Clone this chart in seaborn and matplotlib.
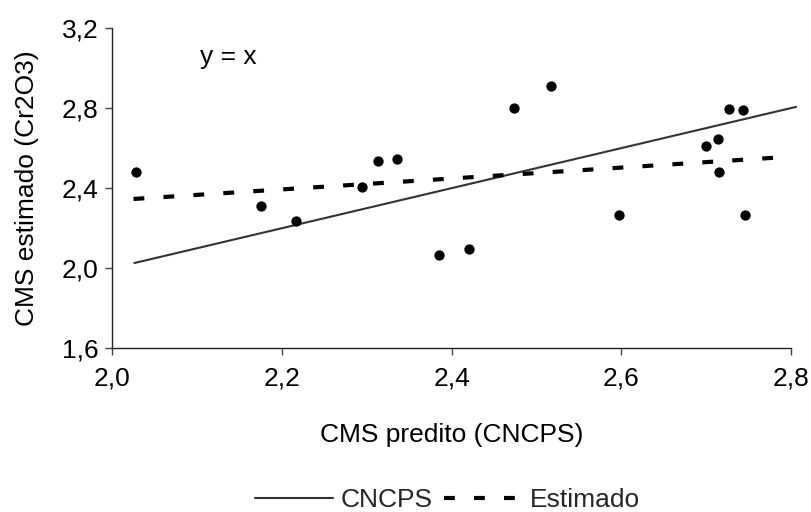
import matplotlib
matplotlib.use("Agg")
import matplotlib.pyplot as plt
import seaborn as sns
import pandas as pd
import numpy as np

# Observed points: CMS predito (CNCPS) vs CMS estimado (Cr2O3)
cms_predito = [2.028, 2.175, 2.217, 2.294, 2.313, 2.336, 2.385, 2.421, 2.474,
               2.517, 2.597, 2.700, 2.714, 2.715, 2.727, 2.743, 2.746]
cms_estimado = [2.480, 2.310, 2.235, 2.408, 2.535, 2.548, 2.065, 2.095, 2.800,
                2.908, 2.265, 2.610, 2.647, 2.480, 2.795, 2.788, 2.265]

# Line "CNCPS" (y = x)
cncps_x = [2.026, 2.806]
cncps_y = [2.026, 2.806]
# Line "Estimado" (fitted)
est_x = [2.025, 2.799]
est_y = [2.346, 2.557]

x_ticks = [2.0, 2.2, 2.4, 2.6, 2.8]
y_ticks = [1.6, 2.0, 2.4, 2.8, 3.2]

sns.set_theme(style="white")
plt.rcParams['font.family'] = ['Liberation Sans', 'DejaVu Sans']
FS = 19

fig = plt.figure(figsize=(8.12, 5.12), dpi=100)
ax = fig.add_axes([112.3/812, 1-348.3/512, (791-112.3)/812, (348.3-28)/512])

pts = pd.DataFrame({"x": cms_predito, "y": cms_estimado})
sns.scatterplot(data=pts, x="x", y="y", ax=ax, color="black", s=55,
                edgecolor="black", linewidth=0, zorder=3)

sns.lineplot(x=cncps_x, y=cncps_y, ax=ax, color="#333333", linewidth=1.5,
             sort=False, label="CNCPS", zorder=2)
ln = sns.lineplot(x=est_x, y=est_y, ax=ax, color="black", linewidth=3.0,
                  sort=False, label="Estimado", zorder=2)
ax.lines[-1].set_dashes((2.6, 4.6))
ax.lines[-2].set_clip_on(False)

ax.set_xlim(2.0, 2.8)
ax.set_ylim(1.6, 3.2)
ax.set_xticks(x_ticks)
ax.set_yticks(y_ticks)
ax.set_xticklabels([f"{v:.1f}".replace(".", ",") for v in x_ticks], fontsize=FS)
ax.set_yticklabels([f"{v:.1f}".replace(".", ",") for v in y_ticks], fontsize=FS)

for s in ["top", "right"]:
    ax.spines[s].set_visible(False)
for s in ["left", "bottom"]:
    ax.spines[s].set_color("#222222")
    ax.spines[s].set_linewidth(1.0)
ax.tick_params(axis="both", direction="out", length=5, width=1.0,
               color="#444444", labelcolor="black", pad=5,
               bottom=True, left=True)
ax.tick_params(axis="x", pad=8)

ax.set_xlabel("CMS predito (CNCPS)", fontsize=FS, color="black")
ax.set_ylabel("CMS estimado (Cr2O3)", fontsize=FS, color="black")
ax.xaxis.set_label_coords(0.5, -0.27)
ax.xaxis.label.set_va("center")
ax.yaxis.set_label_coords(-0.1264, 0.5)
ax.yaxis.label.set_va("center")

ax.text(2.103, 3.055, "y = x", fontsize=FS, ha="left", va="center", color="black")

ax.legend(loc="center", bbox_to_anchor=(0.494, -0.474), ncol=2, frameon=False,
          fontsize=FS, handlelength=2.95, handletextpad=0.3, columnspacing=0.45,
          borderpad=0, borderaxespad=0)

fig.savefig("out.png", dpi=100)
